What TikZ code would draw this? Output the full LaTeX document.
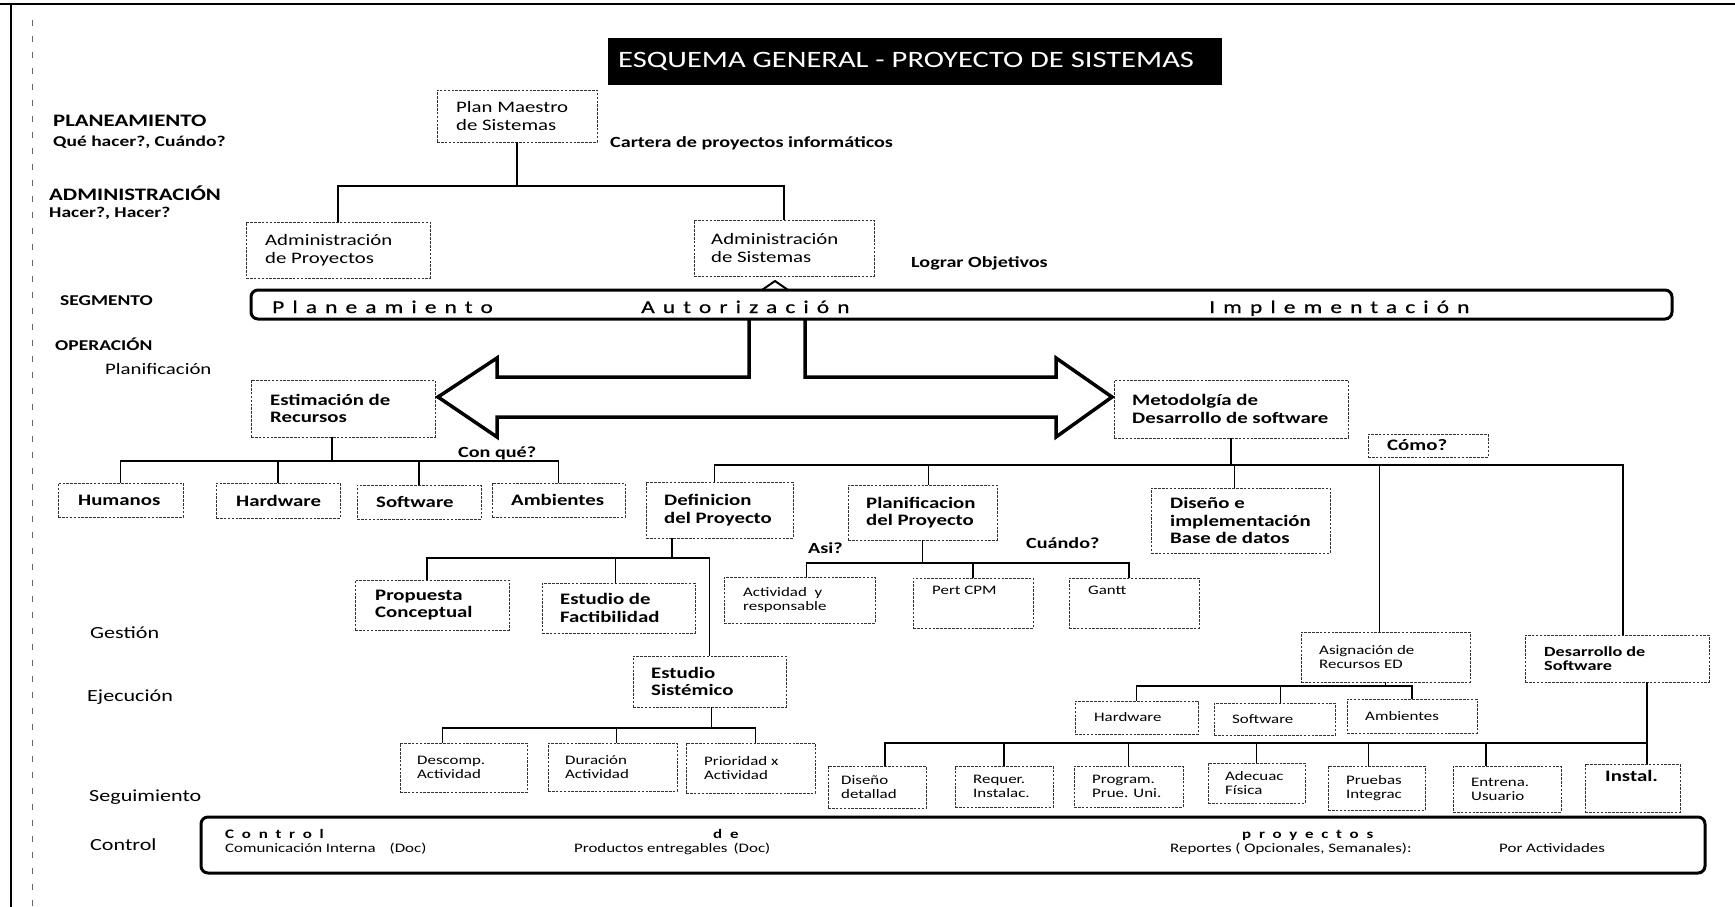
\documentclass[tikz,border=0pt]{standalone}
\usepackage{fontspec}
\setmainfont{Carlito}[FakeStretch=1.3]
\usetikzlibrary{calc}
\newcommand\dbx[5]{\node[dbox, minimum width={#4-#2}, minimum height={#5-#3}] (#1) at (#2,#3) {};}
\newcommand\ctxt[4]{\node[#2, anchor=west] (#1-t) at ([xshift=#3pt]#1.west) {#4};}
\newcommand\ttxt[5]{\node[#2, anchor=north west] (#1-t) at ([xshift=#3pt,yshift=-#4pt]#1.north west) {#5};}
\begin{document}
\begin{tikzpicture}[x=1pt,y=-1pt,
 dbox/.style={draw=black!80, line width=0.8pt, dash pattern=on 2.6pt off 1.3pt, inner sep=0pt, outer sep=0pt, anchor=north west},
 tA/.style={font=\fontsize{16}{17.5}\selectfont, align=left, inner sep=0pt},
 tAb/.style={font=\fontsize{16}{17.5}\selectfont\bfseries, align=left, inner sep=0pt},
 tS/.style={font=\fontsize{13}{13.8}\selectfont, align=left, inner sep=0pt},
 tSb/.style={font=\fontsize{14}{14.5}\selectfont\bfseries, align=left, inner sep=0pt},
 lab/.style={font=\fontsize{17.5}{18}\selectfont\bfseries, anchor=base west, inner sep=0pt},
 sublab/.style={font=\fontsize{15}{16}\selectfont\bfseries, anchor=base west, inner sep=0pt},
 oplab/.style={font=\fontsize{17}{18}\selectfont, anchor=base west, inner sep=0pt},
 note/.style={font=\fontsize{15.5}{16}\selectfont\bfseries, anchor=base west, inner sep=0pt},
 seg/.style={font=\fontsize{18}{19}\selectfont\addfontfeatures{LetterSpace=45,FakeBold=0.6}, anchor=base west, inner sep=0pt},
 ctl/.style={font=\fontsize{13}{14}\selectfont\bfseries\addfontfeatures{LetterSpace=60}, anchor=base west, inner sep=0pt},
 ctls/.style={font=\fontsize{13}{14}\selectfont, anchor=base west, inner sep=0pt},
 tree/.style={line width=1.7pt},
 ttree/.style={line width=1.2pt},
 boldframe/.style={line width=3pt, rounded corners=7pt},
]
\fill[white] (0,0) rectangle (1735,907);
\useasboundingbox (0,0) rectangle (1735,907);
% page frame remnants
\draw[line width=1.4pt] (0,4) -- (1735,4);
\draw[line width=1.4pt] (11,4) -- (11,907);
\draw[line width=0.5pt, black!60, dash pattern=on 6pt off 10pt] (32,20) -- (32,907);

% title
\node[fill=black, minimum width=614pt, minimum height=47pt, inner sep=0pt, anchor=north west] (title) at (608,38) {};
\node[font=\fontsize{23.5}{24}\selectfont, text=white, anchor=west, inner sep=0pt] (title-t) at ([xshift=10pt]title.west) {ESQUEMA GENERAL - PROYECTO DE SISTEMAS};

% left labels
\node[lab] (l1) at (53,126) {PLANEAMIENTO};
\node[sublab] (l1b) at (53,146) {Qué hacer?, Cuándo?};
\node[lab] (l2) at (49,200) {ADMINISTRACIÓN};
\node[sublab] (l2b) at (49,217) {Hacer?, Hacer?};
\node[sublab] (l3) at (60,305) {SEGMENTO};
\node[sublab] (l4) at (55,350) {OPERACIÓN};
\node[oplab, font=\fontsize{16}{17}\selectfont] (l4b) at (105,374) {Planificación};
\node[oplab] (l5) at (90,638) {Gestión};
\node[oplab] (l6) at (87,701) {Ejecución};
\node[oplab] (l7) at (89,801) {Seguimiento};
\node[oplab] (l8) at (90,850) {Control};

% top level
\dbx{pm}{437}{90}{597}{142}
\ctxt{pm}{tA}{19}{Plan Maestro\\de Sistemas}
\node[note] (cart) at (610,147) {Cartera de proyectos informáticos};
\dbx{ap}{246}{222}{430}{278}
\ctxt{ap}{tA}{19}{Administración\\de Proyectos}
\dbx{as}{694}{220}{874}{276}
\ctxt{as}{tA}{17}{Administración\\de Sistemas}
\node[note] (lograr) at (911,267) {Lograr Objetivos};
\coordinate (b0) at (0,186);
\coordinate (p0) at (pm.south |- b0);
\draw[tree] (pm.south) -- (p0);
\draw[tree] (ap.north) |- (p0);
\draw[tree] (as.north) |- (p0);

% segment
\draw[boldframe] (251,290) rectangle (1672,319);
\node[seg] (sg1) at (272,313) {Planeamiento};
\node[seg] (sg2) at (641,313) {Autorización};
\node[seg] (sg3) at (1209,313) {Implementación};
\draw[line width=2pt, line join=round] (762,290) -- (775,281) -- (788,290);

% operation boxes
\dbx{est}{251}{380}{435}{437}
\ctxt{est}{tAb}{19}{Estimación de\\Recursos}
\dbx{met}{1114}{380}{1348}{438}
\ctxt{met}{tAb}{18}{Metodolgía de\\Desarrollo de software}

% double block arrow
\draw[line width=3.5pt, line join=miter] (749,319) -- (749,377) -- (497,377) -- (497,358) -- (438,397) -- (497,437) -- (497,417) -- (1056,417) -- (1056,437) -- (1112,397) -- (1056,358) -- (1056,377) -- (805,377) -- (805,319);

% resources
\dbx{hum}{58}{483}{183}{517}
\ctxt{hum}{tAb}{20}{Humanos}
\dbx{hw}{216}{483}{340}{518}
\ctxt{hw}{tAb}{20}{Hardware}
\dbx{sw}{357}{485}{481}{519}
\ctxt{sw}{tAb}{19}{Software}
\dbx{amb}{492}{483}{625}{517}
\ctxt{amb}{tAb}{19}{Ambientes}
\coordinate (b1) at (0,461);
\coordinate (e0) at ([xshift=-11pt]est.south |- b1);
\draw[tree] ([xshift=-11pt]est.south) -- (e0);
\draw[tree] (hum.north) |- (e0);
\draw[tree] (hw.north) |- (e0);
\draw[tree] (sw.north) |- (e0);
\draw[tree] (amb.north) |- (e0);
\node[note] (conque) at (458,457) {Con qué?};

% methodology branch
\dbx{defn}{646}{482}{793}{538}
\ctxt{defn}{tAb}{18}{Definicion\\del Proyecto}
\dbx{plan}{848}{485}{997}{540}
\ctxt{plan}{tAb}{18}{Planificacion\\del Proyecto}
\dbx{dis}{1151}{488}{1330}{553}
\ctxt{dis}{tAb}{19}{Diseño e\\implementación\\Base de datos}
\dbx{como}{1368}{434}{1488}{457}
\ctxt{como}{tAb}{19}{Cómo?}
\dbx{asig}{1301}{632}{1470}{682}
\ctxt{asig}{tS}{18}{Asignación de\\Recursos ED}
\dbx{dsw}{1525}{635}{1709}{682}
\ctxt{dsw}{tSb}{19}{Desarrollo de\\Software}
\coordinate (b2) at (0,465);
\coordinate (m0) at (met.south |- b2);
\draw[tree] (met.south) -- (m0);
\draw[tree] ([xshift=-5pt]defn.north) |- (m0);
\draw[tree] ([xshift=6pt]plan.north) |- (m0);
\draw[tree] ([xshift=-6pt]dis.north) |- (m0);
\draw[ttree] ([xshift=-6pt]asig.north) |- (m0);
\draw[ttree] ([xshift=6pt]dsw.north) |- (m0);
\node[note] (asi) at (808,553) {Asi?};
\node[note] (cuando) at (1026,548) {Cuándo?};

% definicion subtree
\dbx{prop}{355}{580}{509}{630}
\ctxt{prop}{tAb}{20}{Propuesta\\Conceptual}
\dbx{fact}{542}{583}{695}{633}
\ctxt{fact}{tAb}{18}{Estudio de\\Factibilidad}
\dbx{esis}{633}{656}{786}{707}
\ctxt{esis}{tAb}{18}{Estudio\\Sistémico}
\coordinate (b3) at (0,558);
\coordinate (dv) at ($(defn.south west)+(26,0)$);
\coordinate (d0) at (dv |- b3);
\draw[tree] (dv) -- (d0);
\draw[tree] ([xshift=-5pt]prop.north) |- (d0);
\draw[tree] ([xshift=-3pt]fact.north) |- (d0);
\draw[tree] (esis.north) |- (d0);

% estudio sistemico subtree
\dbx{desc}{400}{743}{527}{792}
\ctxt{desc}{tS}{17}{Descomp.\\Actividad}
\dbx{dur}{548}{743}{677}{791}
\ctxt{dur}{tS}{17}{Duración\\Actividad}
\dbx{prio}{686}{743}{815}{793}
\ctxt{prio}{tS}{18}{Prioridad x\\Actividad}
\coordinate (b4) at (0,728);
\coordinate (s0) at ([xshift=2pt]esis.south |- b4);
\draw[ttree] ([xshift=2pt]esis.south) -- (s0);
\draw[ttree] ([xshift=-21pt]desc.north) |- (s0);
\draw[ttree] ([xshift=4pt]dur.north) |- (s0);
\draw[ttree] ([xshift=5pt]prio.north) |- (s0);

% planificacion subtree
\dbx{act}{724}{577}{875}{623}
\ctxt{act}{tS}{19}{Actividad\ \ y\\responsable}
\dbx{pert}{913}{578}{1033}{628}
\ttxt{pert}{tS}{19}{8}{Pert CPM}
\dbx{gantt}{1069}{578}{1199}{628}
\ttxt{gantt}{tS}{19}{8}{Gantt}
\coordinate (b5) at (0,563);
\coordinate (q0) at (plan.south |- b5);
\draw[tree] (plan.south) -- (q0);
\draw[ttree] ([xshift=7pt]act.north) |- (q0);
\draw[ttree] (pert.north) |- (q0);
\draw[ttree] ([xshift=-5pt]gantt.north) |- (q0);

% asignacion subtree
\dbx{hw2}{1075}{701}{1198}{734}
\ctxt{hw2}{tS}{19}{Hardware}
\dbx{sw2}{1214}{703}{1335}{735}
\ctxt{sw2}{tS}{18}{Software}
\dbx{amb2}{1347}{699}{1477}{733}
\ctxt{amb2}{tS}{18}{Ambientes}
\coordinate (b6) at (0,686);
\coordinate (a0) at (asig.south |- b6);
\draw[ttree] (asig.south) -- (a0);
\draw[ttree] (hw2.north) |- (a0);
\draw[ttree] ([xshift=6pt]sw2.north) |- (a0);
\draw[ttree] (amb2.north) |- (a0);

% desarrollo subtree
\dbx{dd}{828}{766}{926}{808}
\ctxt{dd}{tS}{13}{Diseño\\detallad}
\dbx{req}{955}{766}{1053}{807}
\ctxt{req}{tS}{18}{Requer.\\Instalac.}
\dbx{prog}{1074}{766}{1183}{807}
\ctxt{prog}{tS}{18}{Program.\\Prue. Uni.}
\dbx{adq}{1208}{763}{1305}{803}
\ctxt{adq}{tS}{17}{Adecuac\\Física}
\dbx{prue}{1328}{766}{1425}{810}
\ctxt{prue}{tS}{18}{Pruebas\\Integrac}
\dbx{ent}{1453}{766}{1561}{812}
\ctxt{ent}{tS}{18}{Entrena.\\Usuario}
\dbx{inst}{1585}{764}{1680}{812}
\ttxt{inst}{tAb}{20}{6}{Instal.}
\coordinate (b7) at (0,743);
\coordinate (dsv) at ($(dsw.south west)+(122,0)$);
\coordinate (w0) at (dsv |- b7);
\draw[tree] (dsv) -- (dsv |- inst.north);
\draw[ttree] ([xshift=8pt]dd.north) |- (w0);
\draw[ttree] (req.north) |- (w0);
\draw[ttree] (prog.north) |- (w0);
\draw[ttree] (adq.north) |- (w0);
\draw[ttree] ([xshift=-8pt]prue.north) |- (w0);
\draw[ttree] ([xshift=-21pt]ent.north) |- (w0);

% control frame
\draw[boldframe] (201,817) rectangle (1705,873);
\node[ctl] (c1) at (225,838) {Control};
\node[ctls] (c1b) at (225,852) {Comunicación Interna\hspace{14pt}(Doc)};
\node[ctl] (c2) at (713,838) {de};
\node[ctls] (c2b) at (574,852) {Productos entregables\hspace{6pt}(Doc)};
\node[ctl] (c3) at (1242,838) {proyectos};
\node[ctls] (c3b) at (1170,852) {Reportes ( Opcionales, Semanales):};
\node[ctls] (c3c) at (1499,852) {Por Actividades};
\end{tikzpicture}
\end{document}
